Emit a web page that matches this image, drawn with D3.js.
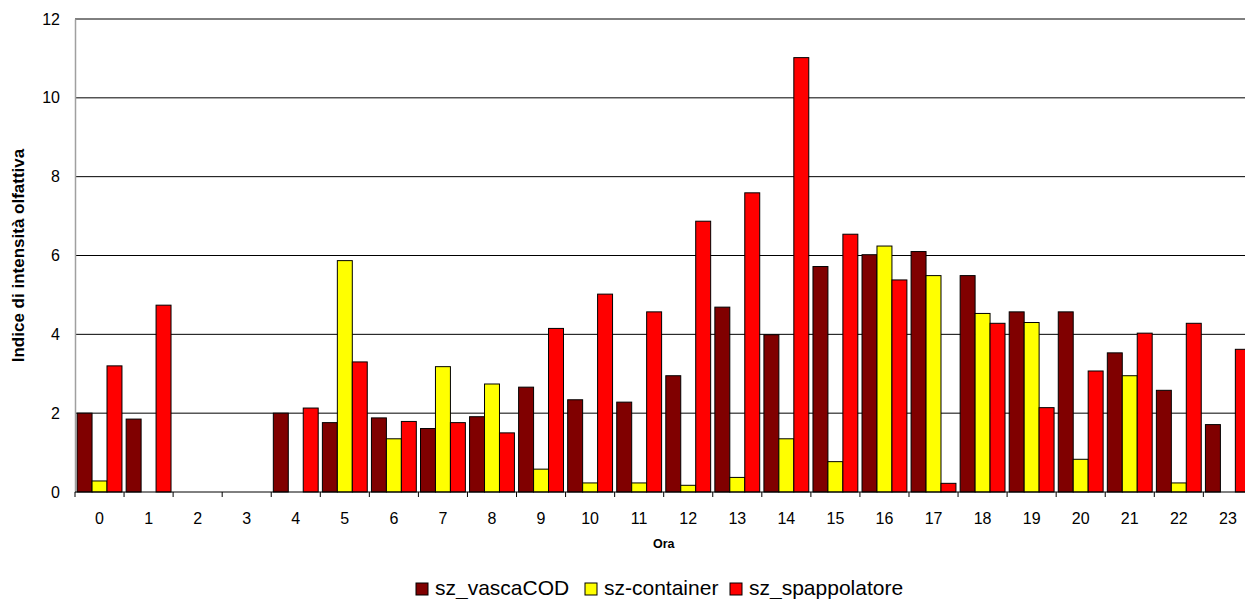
<!DOCTYPE html>
<html>
<head>
<meta charset="utf-8">
<script src="https://cdn.jsdelivr.net/npm/d3@7"></script>
<style>
  html, body { margin: 0; padding: 0; background: #fff; overflow: hidden; }
  svg { display: block; font-family: Arial, "Liberation Sans", sans-serif; }
</style>
</head>
<body>
<svg id="chart" width="1245" height="599"></svg>
<script>
// Hourly odour intensity index per source
const hours = ["0","1","2","3","4","5","6","7","8","9","10","11","12","13","14","15","16","17","18","19","20","21","22","23"];
const seriesNames = ["sz_vascaCOD", "sz-container", "sz_spappolatore"];
const vascaCOD     = [2.00,1.85,0,0,2.00,1.76,1.88,1.61,1.91,2.66,2.34,2.28,2.95,4.69,3.99,5.72,6.02,6.10,5.49,4.57,4.57,3.53,2.58,1.71];
const container    = [0.28,0,0,0,0,5.87,1.35,3.18,2.74,0.58,0.23,0.23,0.17,0.37,1.35,0.77,6.24,5.49,4.53,4.30,0.83,2.95,0.23,0];
const spappolatore = [3.20,4.74,0,0,2.13,3.30,1.79,1.76,1.50,4.15,5.02,4.57,6.87,7.59,11.02,6.54,5.38,0.22,4.28,2.14,3.07,4.03,4.28,3.62];
const yTicks = [0,2,4,6,8,10,12];
const colors = ["#800000", "#FFFF00", "#FF0000"];

const seriesValues = [vascaCOD, container, spappolatore];

const svg = d3.select("#chart");
const plotLeft = 75, plotRight = 1252.4, plotTop = 19, plotBottom = 492;

const x = d3.scaleBand().domain(hours).range([plotLeft, plotRight]).paddingInner(0).paddingOuter(0);
const xs = d3.scaleBand().domain(seriesNames).range([0, x.bandwidth()]).paddingInner(0).paddingOuter(0.14);
const y = d3.scaleLinear().domain([0, 12]).range([plotBottom, plotTop]);

// horizontal gridlines
svg.append("g")
  .selectAll("line")
  .data(yTicks.filter(d => d > 0))
  .join("line")
  .attr("x1", plotLeft).attr("x2", plotRight)
  .attr("y1", d => y(d)).attr("y2", d => y(d))
  .attr("stroke", "#000").attr("stroke-width", 1);

// bars
const flat = [];
seriesValues.forEach((vals, si) => {
  vals.forEach((v, i) => { if (v > 0) flat.push({ hour: hours[i], s: seriesNames[si], si, v }); });
});
svg.append("g")
  .selectAll("rect")
  .data(flat)
  .join("rect")
  .attr("x", d => x(d.hour) + xs(d.s))
  .attr("width", xs.bandwidth())
  .attr("y", d => y(d.v))
  .attr("height", d => y(0) - y(d.v))
  .attr("fill", d => colors[d.si])
  .attr("stroke", "#000")
  .attr("stroke-width", 1);

// y axis
const yAxis = svg.append("g")
  .attr("transform", `translate(${plotLeft},0)`)
  .call(d3.axisLeft(y).tickValues(yTicks).tickSize(0).tickPadding(15));
yAxis.select(".domain").attr("stroke", "#a0a0a0").attr("stroke-width", 1.5);
yAxis.selectAll("text").attr("font-size", 16).attr("fill", "#000").attr("font-family", "Arial, 'Liberation Sans', sans-serif");

// x axis
const xAxis = svg.append("g")
  .attr("transform", `translate(0,${plotBottom})`)
  .call(d3.axisBottom(x).tickSize(0).tickPadding(21));
xAxis.select(".domain").remove();
xAxis.append("line").attr("x1", plotLeft).attr("x2", plotRight).attr("y1", 0).attr("y2", 0).attr("stroke", "#000").attr("stroke-width", 1);
xAxis.selectAll("text").attr("font-size", 16).attr("fill", "#000").attr("font-family", "Arial, 'Liberation Sans', sans-serif");
// tick marks on band boundaries
xAxis.append("g")
  .selectAll("line")
  .data(hours)
  .join("line")
  .attr("x1", d => x(d)).attr("x2", d => x(d))
  .attr("y1", 0).attr("y2", 5)
  .attr("stroke", "#000").attr("stroke-width", 1);

// axis titles
svg.append("text")
  .attr("transform", `translate(24,${(plotTop + plotBottom) / 2}) rotate(-90)`)
  .attr("text-anchor", "middle")
  .attr("font-size", 17).attr("font-weight", "bold")
  .text("Indice di intensità olfattiva");

svg.append("text")
  .attr("x", (plotLeft + plotRight) / 2).attr("y", 548)
  .attr("text-anchor", "middle")
  .attr("font-size", 12.5).attr("font-weight", "bold")
  .text("Ora");

// legend
const legendX = [416, 585, 730];
const lg = svg.append("g");
seriesNames.forEach((name, i) => {
  lg.append("rect")
    .attr("x", legendX[i]).attr("y", 583).attr("width", 12).attr("height", 12)
    .attr("fill", colors[i]).attr("stroke", "#000").attr("stroke-width", 1);
  lg.append("text")
    .attr("x", legendX[i] + 19).attr("y", 595)
    .attr("font-size", 21)
    .text(name);
});
</script>
</body>
</html>
